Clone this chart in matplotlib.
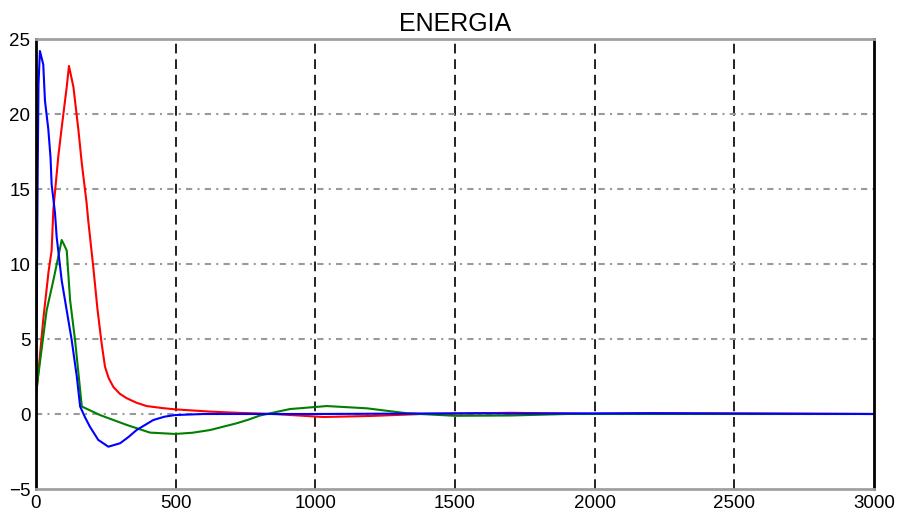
"""
ENERGIA: three energy traces over 0-3000 samples.
Writes out.png
"""
import matplotlib
matplotlib.use("Agg")
import matplotlib.pyplot as plt

plt.rcParams["font.family"] = ["Liberation Sans", "DejaVu Sans"]

# ── Data ──
blue_x = [0, 3, 6, 9, 14, 26, 32, 44, 52, 56, 68, 74, 92, 110, 128, 146, 158,
          175, 193, 223, 259, 301, 330, 360, 420, 460, 498, 600, 1000, 1600,
          1700, 2200, 3000]
blue_y = [1.5, 8, 16, 22, 24.2, 23.3, 20.9, 19.0, 17.1, 15.3, 13.4, 11.8, 8.9, 6.9,
          4.9, 2.5, 0.5, -0.2, -0.85, -1.73, -2.18, -1.95, -1.55, -1.07, -0.4,
          -0.18, -0.07, 0.0, 0.0, 0.05, 0.03, 0.05, 0.0]

green_x = [0, 20, 38, 62, 80, 92, 100, 110, 122, 140, 152, 164, 229, 325, 408,
           498, 560, 623, 718, 760, 802, 909, 1041, 1184, 1327, 1500, 1700, 1900,
           3000]
green_y = [1.4, 4.3, 6.9, 8.9, 10.5, 11.6, 11.3, 10.9, 7.6, 4.9, 2.7, 0.5, -0.07,
           -0.73, -1.24, -1.33, -1.25, -1.07, -0.62, -0.38, -0.1, 0.33, 0.53, 0.38,
           0.05, -0.12, -0.1, 0.0, 0.0]

red_x = [0, 8, 26, 45, 56, 62, 80, 92, 110, 118, 134, 152, 164, 181, 187, 205,
         220, 235, 247, 260, 277, 300, 325, 360, 396, 450, 498, 623, 720, 850,
         1029, 1200, 1380, 1600, 1700, 2000, 2200, 3000]
red_y = [1.1, 2.7, 6.3, 9.5, 10.9, 13.6, 17.2, 19.1, 21.8, 23.2, 21.8, 18.9, 16.7,
         14.1, 12.9, 9.8, 7.0, 4.7, 3.15, 2.4, 1.8, 1.35, 1.05, 0.75, 0.53, 0.4,
         0.31, 0.16, 0.08, 0.0, -0.2, -0.13, 0.0, 0.05, 0.08, 0.0, 0.05, 0.0]

x_ticks = [0, 500, 1000, 1500, 2000, 2500, 3000]
y_ticks = [-5, 0, 5, 10, 15, 20, 25]

# ── Plot ──
fig = plt.figure(figsize=(9.03, 5.11), dpi=100)
ax = fig.add_axes([36 / 903, 1 - 489 / 511, 838 / 903, 450 / 511])

ax.plot(red_x, red_y, color="red", linewidth=1.5)
ax.plot(green_x, green_y, color="green", linewidth=1.5)
ax.plot(blue_x, blue_y, color="blue", linewidth=1.5)

# grid: vertical black dashed, horizontal grey dash-dot
for xv in x_ticks[1:-1]:
    ax.axvline(xv, color="#222222", linewidth=1.4, dashes=(5, 3), zorder=0)
for yv in y_ticks[1:-1]:
    ax.axhline(yv, color="#9a9a9a", linewidth=1.5, dashes=(3, 2.5, 1, 2.5), zorder=0)

ax.set_xlim(0, 3000)
ax.set_ylim(-5, 25)
ax.set_xticks(x_ticks)
ax.set_yticks(y_ticks)
ax.tick_params(length=0, labelsize=13.5)
ax.tick_params(axis="y", pad=4)
ax.tick_params(axis="x", pad=4)

for side in ("left", "right"):
    ax.spines[side].set_color("black")
    ax.spines[side].set_linewidth(2)
for side in ("top", "bottom"):
    ax.spines[side].set_color("#a0a0a0")
    ax.spines[side].set_linewidth(2)

ax.set_title("ENERGIA", fontsize=18, pad=6)

fig.savefig("out.png", dpi=100)
